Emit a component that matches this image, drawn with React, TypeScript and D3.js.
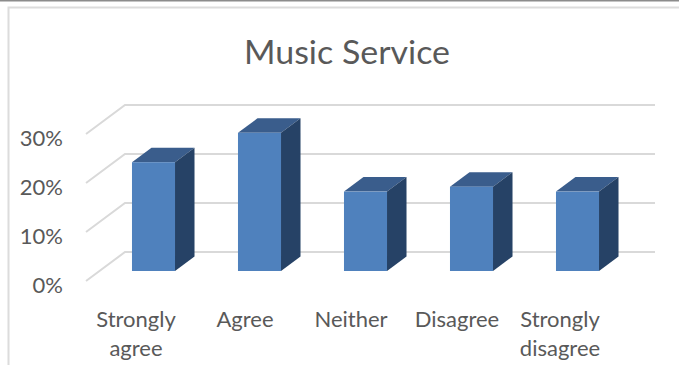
import React from "react";
import * as d3 from "d3";

const categories = ["Strongly agree", "Agree", "Neither", "Disagree", "Strongly disagree"];
const categoryLines = [["Strongly", "agree"], ["Agree"], ["Neither"], ["Disagree"], ["Strongly", "disagree"]];
const values = [0.222, 0.282, 0.162, 0.172, 0.162];
const ticks = [0, 0.1, 0.2, 0.3];
const title = "Music Service";
const font = "Lato, 'Open Sans', sans-serif";

export default function App() {
  const x = d3.scaleBand<string>().domain(categories).range([100.5, 630.5]).paddingInner(0.594).paddingOuter(0.297);
  const yFront = d3.scaleLinear().domain([0, 0.3]).range([281, 134]);
  const yBar = d3.scaleLinear().domain([0, 0.3]).range([271, 124]);
  const depth = { wall: [39, -29], bar: [19.5, -14.5] };
  const pct = d3.format(".0%");
  const bw = x.bandwidth();
  return (
    <svg width={679} height={365} style={{ position: "absolute", left: 0, top: 0, background: "#fff" }}>
      <line x1={0} x2={679} y1={0.5} y2={0.5} stroke="#8c8c8c" strokeWidth={2} />
      <path d="M679,7.5H8.5V365" fill="none" stroke="#dcdcdc" strokeWidth={2} />
      <text x={347} y={64} textAnchor="middle" fontFamily={font} fontSize={33} fontWeight={400} fill="#595959" textLength={206} lengthAdjust="spacingAndGlyphs">{title}</text>
      {ticks.map((t) => {
        const yf = yFront(t);
        const yb = yf + depth.wall[1];
        return (
          <g key={t}>
            <path d={`M86,${yf}L${86 + depth.wall[0]},${yb}H655`} fill="none" stroke="#d9d9d9" strokeWidth={2} />
            <text x={63} y={yf + 12} textAnchor="end" fontFamily={font} fontSize={22} fill="#595959">{pct(t)}</text>
          </g>
        );
      })}
      {categories.map((c, i) => {
        const x0 = x(c)!;
        const x1 = x0 + bw;
        const top = yBar(values[i]);
        const bot = yBar(0);
        const [dx, dy] = depth.bar;
        return (
          <g key={c}>
            <path d={`M${x0},${top}L${x0 + dx},${top + dy}H${x1 + dx}L${x1},${top}Z`} fill="#3a5d8c" />
            <path d={`M${x1},${top}L${x1 + dx},${top + dy}V${bot + dy}L${x1},${bot}Z`} fill="#264266" />
            <rect x={x0} y={top} width={bw} height={bot - top} fill="#4f81bd" />
          </g>
        );
      })}
      {categories.map((c, i) => (
        <text key={c} textAnchor="middle" fontFamily={font} fontSize={22} fill="#595959">
          {categoryLines[i].map((l, j) => (
            <tspan key={l} x={x(c)! + bw / 2 - (categoryLines[i].length > 1 ? 17.5 : 14.5)} y={327 + j * 29}>{l}</tspan>
          ))}
        </text>
      ))}
    </svg>
  );
}
